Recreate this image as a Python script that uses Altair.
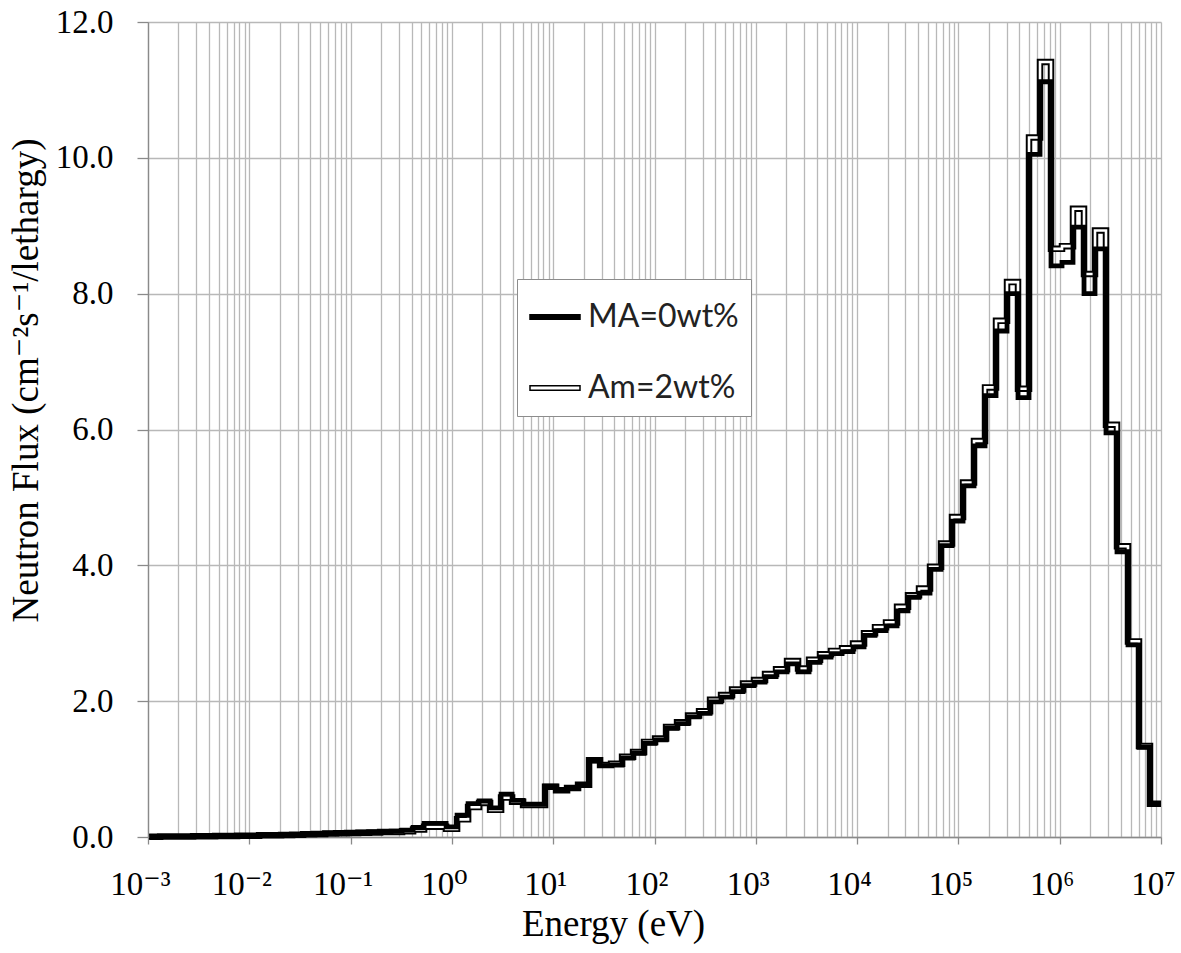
import altair as alt
import pandas as pd

# Group boundaries (eV), high to low energy (0.25-lethargy group structure)
group_edges_eV = [
    1.000e7, 7.788e6, 6.065e6, 4.724e6, 3.679e6, 2.865e6, 2.231e6, 1.738e6, 1.353e6, 1.054e6,
    8.209e5, 6.393e5, 4.979e5, 3.877e5, 3.020e5, 2.352e5, 1.832e5, 1.426e5, 1.111e5, 8.652e4,
    6.738e4, 5.248e4, 4.087e4, 3.183e4, 2.479e4, 1.930e4, 1.503e4, 1.171e4, 9.119e3, 7.102e3,
    5.531e3, 4.307e3, 3.355e3, 2.613e3, 2.035e3, 1.585e3, 1.234e3, 9.611e2, 7.485e2, 5.829e2,
    4.540e2, 3.536e2, 2.754e2, 2.145e2, 1.670e2, 1.301e2, 1.013e2, 7.889e1, 6.144e1, 4.785e1,
    3.727e1, 2.902e1, 2.260e1, 1.760e1, 1.371e1, 1.068e1, 8.315, 6.476, 5.043, 3.928,
    3.059, 2.382, 1.855, 1.445, 1.125, 0.8764, 0.6826, 0.5316, 0.4140, 0.3224,
    0.2511, 0.1956, 0.1523, 0.1186, 0.09237, 0.07194, 0.05603, 0.04363, 0.03398, 0.02647,
    0.02061, 0.01605, 0.01250, 0.009737, 0.007583, 0.005905, 0.004599, 0.003582, 0.002789, 0.002172,
    0.001692, 0.001318, 0.001026,
]

# Flux per group (group 1 = highest energy)
flux_ma = [
    0.49, 1.32, 2.83, 4.20, 5.95, 8.66, 8.00, 8.98, 8.46, 8.41,
    11.12, 10.05, 6.47, 8.00, 7.45, 6.50, 5.76, 5.17, 4.65, 4.29,
    3.94, 3.59, 3.53, 3.33, 3.11, 3.04, 2.97, 2.80, 2.73, 2.70,
    2.65, 2.57, 2.43, 2.55, 2.43, 2.36, 2.28, 2.23, 2.14, 2.06,
    1.99, 1.82, 1.77, 1.67, 1.60, 1.43, 1.38, 1.23, 1.16, 1.06,
    1.05, 1.12, 0.76, 0.72, 0.69, 0.75, 0.48, 0.48, 0.54, 0.63,
    0.43, 0.53, 0.49, 0.32, 0.15, 0.20, 0.20, 0.14, 0.10, 0.085,
    0.080, 0.075, 0.070, 0.066, 0.062, 0.056, 0.050, 0.044, 0.038, 0.033,
    0.028, 0.030, 0.020, 0.020, 0.017, 0.015, 0.013, 0.011, 0.009, 0.008,
    0.007, 0.006,
]
flux_am = [
    0.49, 1.34, 2.88, 4.28, 6.07, 8.93, 8.29, 9.25, 8.70, 8.66,
    11.41, 10.30, 6.60, 8.17, 7.60, 6.62, 5.83, 5.22, 4.71, 4.32,
    3.98, 3.66, 3.56, 3.39, 3.16, 3.09, 3.00, 2.85, 2.78, 2.74,
    2.69, 2.61, 2.48, 2.59, 2.47, 2.40, 2.31, 2.26, 2.17, 2.09,
    2.02, 1.85, 1.79, 1.69, 1.62, 1.45, 1.40, 1.25, 1.18, 1.08,
    1.06, 1.13, 0.77, 0.72, 0.69, 0.74, 0.47, 0.47, 0.52, 0.58,
    0.40, 0.50, 0.44, 0.26, 0.12, 0.15, 0.15, 0.11, 0.085, 0.075,
    0.072, 0.068, 0.063, 0.060, 0.056, 0.050, 0.045, 0.040, 0.034, 0.030,
    0.026, 0.027, 0.018, 0.018, 0.015, 0.013, 0.012, 0.010, 0.008, 0.007,
    0.006, 0.005,
]

series_names = ["MA=0wt%", "Am=2wt%"]
y_tick_values = [0, 2, 4, 6, 8, 10, 12]
x_decades = [-3, -2, -1, 0, 1, 2, 3, 4, 5, 6, 7]
x_minor_multipliers = [1, 2, 3, 4, 5, 6, 7, 8, 9]
exponent_superscripts = ["⁻³", "⁻²", "⁻¹", "⁰", "¹", "²", "³", "⁴", "⁵", "⁶", "⁷"]

x_grid_values = [m * 10.0 ** d for d in x_decades[:-1] for m in x_minor_multipliers] + [10.0 ** x_decades[-1]]

rows = []
for name, flux in zip(series_names, [flux_ma, flux_am]):
    for g in range(len(flux) - 1, -1, -1):
        rows.append({"series": name, "E": group_edges_eV[g + 1], "flux": flux[g]})
    rows.append({"series": name, "E": group_edges_eV[0], "flux": flux[0]})
df = pd.DataFrame(rows)

major_test = "abs(log(datum.value)/LN10 - round(log(datum.value)/LN10)) < 1e-6"
sup_array = "[" + ",".join("'" + s + "'" for s in exponent_superscripts) + "]"
label_expr = f"{major_test} ? '10' + {sup_array}[round(log(datum.value)/LN10) + 3] : ''"

GRID = "#b8b8b8"
AXIS = "#8a8a8a"
SERIF = "Liberation Serif, DejaVu Serif, serif"

x_enc = alt.X(
    "E:Q",
    scale=alt.Scale(type="log", domain=[1e-3, 1e7], nice=False),
    axis=alt.Axis(
        values=x_grid_values,
        labelExpr=label_expr,
        grid=True, gridColor=GRID, gridWidth=1.3,
        tickSize=7, tickColor=AXIS, tickWidth=1.3,
        tickOpacity={"condition": {"test": major_test, "value": 1}, "value": 0},
        domainColor=AXIS, domainWidth=1.3,
        labelFont=SERIF, labelFontSize=33, labelColor="#000000",
        labelPadding=24, labelOffset=-8, labelOverlap=False, labelFlush=False, labelBound=False,
        title="Energy (eV)", titleFont=SERIF, titleFontSize=37, titleFontWeight="normal",
        titleColor="#000000", titleX=465, titleY=98, titleBaseline="alphabetic",
    ),
)
y_enc = alt.Y(
    "flux:Q",
    scale=alt.Scale(domain=[0, 12], nice=False),
    axis=alt.Axis(
        values=y_tick_values, format=".1f",
        grid=True, gridColor=GRID, gridWidth=1.3,
        tickSize=11, tickColor=AXIS, tickWidth=1.3,
        domainColor=AXIS, domainWidth=1.3,
        labelFont=SERIF, labelFontSize=33, labelColor="#000000", labelPadding=24,
        title="Neutron Flux (cm⁻²s⁻¹/lethargy)", titleFont=SERIF, titleFontSize=37,
        titleFontWeight="normal", titleColor="#000000",
        titleX=-111, titleY=358, titleAngle=270, titleBaseline="alphabetic", titleAlign="center",
    ),
)

base = alt.Chart(df)
am_df_filter = alt.datum.series == series_names[1]
ma_df_filter = alt.datum.series == series_names[0]

am_outer = base.transform_filter(am_df_filter).mark_line(
    interpolate="step-after", color="black", strokeWidth=6.5, strokeJoin="miter", strokeCap="butt"
).encode(x=x_enc, y=y_enc)
am_inner = base.transform_filter(am_df_filter).mark_line(
    interpolate="step-after", color="white", strokeWidth=2.6, strokeJoin="miter", strokeCap="butt"
).encode(x=x_enc, y=y_enc)
ma_line = base.transform_filter(ma_df_filter).mark_line(
    interpolate="step-after", color="black", strokeWidth=4.8, strokeJoin="miter", strokeCap="butt"
).encode(x=x_enc, y=y_enc)

legend_cfg = dict(
    title=None, orient="none", legendX=369, legendY=257,
    strokeColor="#8c8c8c", fillColor="white", padding=12,
    symbolSize=2500, symbolStrokeColor="black", symbolStrokeWidth=1.5, symbolOpacity=1,
    labelFont="Lato", labelFontSize=32, labelColor="#222222", labelOffset=7,
    rowPadding=29, labelBaseline="middle",
)
legend_points = base.mark_point(opacity=0, filled=True).encode(
    x=x_enc, y=y_enc,
    shape=alt.Shape("series:N", scale=alt.Scale(domain=series_names,
                    range=["M-1,-0.09H1V0.09H-1Z", "M-1,-0.09H1V0.09H-1Z"]),
                    legend=alt.Legend(**legend_cfg)),
    fill=alt.Fill("series:N", scale=alt.Scale(domain=series_names, range=["black", "white"]),
                  legend=alt.Legend(**legend_cfg)),
    stroke=alt.Stroke("series:N", scale=alt.Scale(domain=series_names, range=["black", "black"]),
                      legend=alt.Legend(**legend_cfg)),
)

chart = alt.layer(am_outer, am_inner, ma_line, legend_points).properties(
    width=1013, height=815,
    autosize=alt.AutoSizeParams(type="none"),
    padding={"left": 148, "top": 22, "right": 20, "bottom": 116},
    background="white",
).configure_view(strokeWidth=0)

chart.save("out.html", embed_options={"renderer": "svg", "actions": False})
